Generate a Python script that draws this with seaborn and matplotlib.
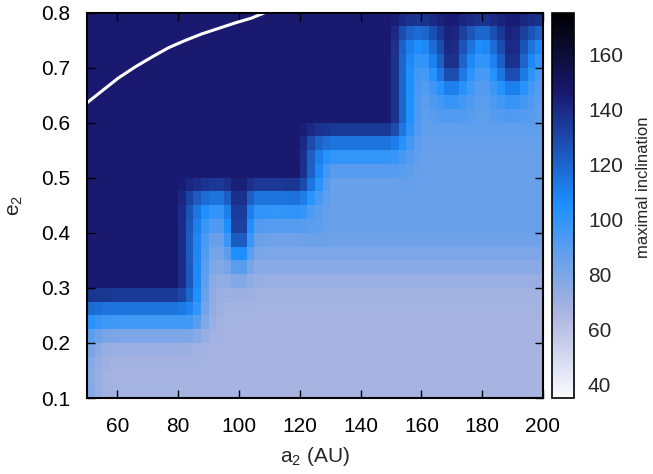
import numpy as np
import matplotlib
matplotlib.use("Agg")
import matplotlib.pyplot as plt
import seaborn as sns
from matplotlib.colors import LinearSegmentedColormap

sns.set_style("ticks")
plt.rcParams["font.family"] = ["Liberation Sans", "DejaVu Sans"]
plt.rcParams["mathtext.fontset"] = "custom"
plt.rcParams["mathtext.rm"] = "Liberation Sans"
plt.rcParams["mathtext.it"] = "Liberation Sans"

# Grid of outer-orbit semi-major axes (AU) and eccentricities
a2 = [50, 55, 60, 65, 70, 75, 80, 85, 90, 95, 100, 105, 110, 115, 120, 125,
      130, 135, 140, 145, 150, 155, 160, 165, 170, 175, 180, 185, 190, 195, 200]
e2 = [0.10, 0.15, 0.20, 0.25, 0.30, 0.35, 0.40, 0.45,
      0.50, 0.55, 0.60, 0.65, 0.70, 0.75, 0.80]

# Maximal inclination (deg); one list per a2, ordered by increasing e2
max_incl = [
    [80, 78, 86, 110, 146, 146, 146, 146, 146, 146, 146, 146, 146, 146, 146],  # 50
    [70, 69, 74, 105, 146, 146, 146, 146, 146, 146, 146, 146, 146, 146, 146],  # 55
    [68, 67, 72, 104, 146, 146, 146, 146, 146, 146, 146, 146, 146, 146, 146],  # 60
    [68, 67, 72, 104, 146, 146, 146, 146, 146, 146, 146, 146, 146, 146, 146],  # 65
    [68, 67, 72, 104, 146, 146, 146, 146, 146, 146, 146, 146, 146, 146, 146],  # 70
    [68, 67, 72, 104, 146, 146, 146, 146, 146, 146, 146, 146, 146, 146, 146],  # 75
    [68, 67, 72, 104, 146, 146, 146, 146, 146, 146, 146, 146, 146, 146, 146],  # 80
    [68, 67, 71, 104, 118, 116, 116, 120, 146, 146, 146, 146, 146, 146, 146],  # 85
    [67, 67, 68, 74, 76, 82, 88, 104, 146, 146, 146, 146, 146, 146, 146],      # 90
    [67, 67, 67, 68, 70, 79, 88, 104, 146, 146, 146, 146, 146, 146, 146],      # 95
    [67, 67, 67, 68, 72, 102, 146, 146, 146, 146, 146, 146, 146, 146, 146],    # 100
    [67, 67, 67, 67, 70, 79, 88, 104, 146, 146, 146, 146, 146, 146, 146],      # 105
    [67, 67, 67, 67, 69, 78, 86, 104, 146, 146, 146, 146, 146, 146, 146],      # 110
    [67, 67, 67, 67, 69, 78, 86, 104, 146, 146, 146, 146, 146, 146, 146],      # 115
    [67, 67, 67, 67, 69, 78, 86, 106, 146, 146, 146, 146, 146, 146, 146],      # 120
    [67, 67, 67, 67, 69, 78, 88, 92, 112, 115, 146, 146, 146, 146, 146],       # 125
    [67, 67, 67, 67, 69, 78, 86, 86, 86, 104, 146, 146, 146, 146, 146],        # 130
    [67, 67, 67, 67, 69, 78, 86, 86, 86, 104, 146, 146, 146, 146, 146],        # 135
    [67, 67, 67, 67, 69, 78, 86, 86, 86, 104, 146, 146, 146, 146, 146],        # 140
    [67, 67, 67, 67, 69, 78, 86, 86, 86, 104, 146, 146, 146, 146, 146],        # 145
    [67, 67, 67, 67, 69, 78, 86, 86, 86, 104, 146, 146, 146, 146, 146],        # 150
    [67, 67, 67, 67, 69, 78, 86, 86, 88, 95, 110, 110, 110, 114, 146],         # 155
    [67, 67, 67, 67, 69, 78, 86, 86, 86, 86, 88, 88, 92, 106, 146],            # 160
    [67, 67, 67, 67, 69, 78, 86, 86, 86, 86, 90, 96, 110, 126, 146],           # 165
    [67, 67, 67, 67, 69, 78, 86, 86, 86, 86, 88, 104, 146, 146, 146],          # 170
    [67, 67, 67, 67, 69, 78, 86, 86, 86, 86, 90, 95, 108, 122, 146],           # 175
    [67, 67, 67, 67, 69, 78, 86, 86, 86, 86, 88, 88, 92, 106, 146],            # 180
    [67, 67, 67, 67, 69, 78, 86, 86, 86, 86, 90, 96, 110, 126, 146],           # 185
    [67, 67, 67, 67, 69, 78, 86, 86, 86, 86, 88, 104, 146, 146, 146],          # 190
    [67, 67, 67, 67, 69, 78, 86, 86, 86, 86, 90, 95, 108, 122, 146],           # 195
    [67, 67, 67, 67, 69, 78, 86, 86, 86, 86, 88, 88, 92, 108, 146],            # 200
]

# Stability boundary curve (white line)
curve_a2 = [50.0, 54.8, 60.3, 65.8, 71.3, 76.8, 82.2, 87.7, 93.2, 98.7, 104.2, 108.6]
curve_e2 = [0.636, 0.657, 0.681, 0.701, 0.719, 0.736, 0.749, 0.761, 0.771, 0.781, 0.790, 0.800]

x_ticks = [60, 80, 100, 120, 140, 160, 180, 200]
y_ticks = [0.1, 0.2, 0.3, 0.4, 0.5, 0.6, 0.7, 0.8]
cb_ticks = [40, 60, 80, 100, 120, 140, 160]
vmin, vmax = 35, 175

# Palette: white -> lavender -> dodger blue -> midnight blue -> black
stops = [(35, "#fbfbfe"), (66, "#aab4e0"), (86, "#68a0ea"), (105, "#1e90ff"),
         (146, "#191970"), (175, "#000000")]
cmap = LinearSegmentedColormap.from_list(
    "incl", [((v - vmin) / (vmax - vmin), c) for v, c in stops])


def pm3d_cells(z):
    """Refine node values 2x (bilinear) and colour each cell by its corner mean."""
    ne, na = z.shape
    r = np.empty((2 * ne - 1, 2 * na - 1))
    r[::2, ::2] = z
    r[1::2, ::2] = (z[:-1] + z[1:]) / 2
    r[::2, 1::2] = (z[:, :-1] + z[:, 1:]) / 2
    r[1::2, 1::2] = (z[:-1, :-1] + z[1:, :-1] + z[:-1, 1:] + z[1:, 1:]) / 4
    return (r[:-1, :-1] + r[1:, :-1] + r[:-1, 1:] + r[1:, 1:]) / 4


z = np.array(max_incl, dtype=float).T  # rows: e2, cols: a2
cells = pm3d_cells(z)

W, H = 653, 474
fig = plt.figure(figsize=(W / 100, H / 100), dpi=100)
rect = [87 / W, 1 - 398 / H, (543 - 87) / W, (398 - 12.5) / H]
hax = fig.add_axes(rect)
cax = fig.add_axes([552 / W, 1 - 398 / H, 22 / W, (398 - 13) / H])

sns.heatmap(cells, ax=hax, cmap=cmap, vmin=vmin, vmax=vmax, cbar_ax=cax,
            xticklabels=False, yticklabels=False, linewidths=0)
hax.invert_yaxis()
hax.axis("off")

# Data-coordinate axes on top for frame, ticks and the curve
ax = fig.add_axes(rect, facecolor="none")
ax.set_xlim(a2[0], a2[-1])
ax.set_ylim(e2[0], e2[-1])
ax.plot(curve_a2, curve_e2, color="white", lw=2.2, solid_capstyle="butt")
ax.set_xticks(x_ticks)
ax.set_yticks(y_ticks)
ax.set_yticklabels([f"{t:.1f}" for t in y_ticks])
ax.tick_params(direction="in", top=True, right=True, length=6, width=1,
               labelsize=15, colors="black")
ax.tick_params(axis="x", pad=14)
ax.tick_params(axis="y", pad=12)
for s in ax.spines.values():
    s.set_linewidth(1.5)
    s.set_color("black")
ax.set_xlabel(r"a$_2$ (AU)", fontsize=15, labelpad=6)
ax.set_ylabel(r"e$_2$", fontsize=15, labelpad=12)

cb = hax.collections[0].colorbar
cb.set_ticks(cb_ticks)
cb.outline.set_linewidth(1.2)
cb.outline.set_edgecolor("black")
cax.tick_params(direction="in", left=True, right=True, length=4, width=1,
                labelsize=15, pad=10)

# Colour-bar title, placed beside the tick labels
fig.text(643 / W, 1 - 187 / H, "maximal inclination", rotation=90,
         ha="center", va="center", fontsize=12)

fig.savefig("out.png", dpi=100)
